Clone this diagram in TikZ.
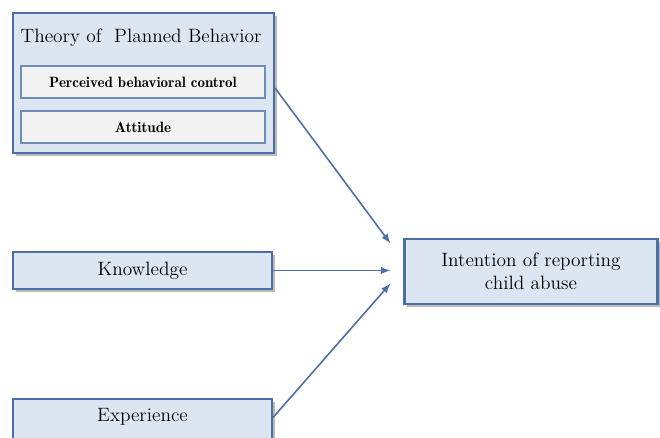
\documentclass[tikz,border=0pt]{standalone}
\usetikzlibrary{arrows.meta,shadows,calc}
\tikzset{>=latex}
\definecolor{boxfill}{HTML}{DCE6F2}
\definecolor{boxline}{HTML}{4A6FA5}
\definecolor{innerfill}{HTML}{F2F2F2}
\definecolor{arrowcol}{HTML}{4F6EA8}
\tikzset{
  outer box/.style={draw=boxline,line width=1.2pt,fill=boxfill,
    drop shadow={shadow xshift=1.5pt,shadow yshift=-1.5pt,opacity=0.45,fill=black!60}},
  inner box/.style={draw=boxline!80,line width=0.6pt,fill=innerfill,
    font=\rmfamily\fontsize{8.5}{10}\fontseries{b}\selectfont},
  big text/.style={font=\rmfamily\fontsize{11}{13}\selectfont},
  link/.style={->,draw=arrowcol,line width=0.9pt}
}

\begin{document}
\begin{tikzpicture}[x=0.02cm,y=-0.02cm]
    \useasboundingbox (0,0) rectangle (660,438);

    % predictors
    \node[outer box,minimum width=261*0.02cm,minimum height=140*0.02cm] (tpb) at (143.5,83) {};
    \node[big text] (title) at (141,38) {Theory of~ Planned Behavior};
    \node[inner box,minimum width=244*0.02cm,minimum height=32*0.02cm] (pbc) at (143,82) {Perceived behavioral control};
    \node[inner box,minimum width=244*0.02cm,minimum height=32*0.02cm] (att) at (143,127) {Attitude};

    \node[outer box,big text,minimum width=259*0.02cm,minimum height=37*0.02cm] (know) at (142.5,270.5) {Knowledge};
    \node[outer box,big text,minimum width=259*0.02cm,minimum height=47*0.02cm,text depth=0.3cm] (exp) at (142.5,422.5) {Experience};

    % outcome
    \node[outer box,big text,minimum width=253*0.02cm,minimum height=65*0.02cm,align=center] (intent) at (531,271.5) {Intention of reporting\\child abuse};

    \draw[link] ($(tpb.east)+(0,5)$) -- ($(intent.west)+(-13,-28)$);
    \draw[link] (know.east) -- ($(intent.west)+(-13,-1)$);
    \draw[link] ($(exp.east)+(0,-5)$) -- ($(intent.west)+(-13,12)$);
\end{tikzpicture}
\end{document}
